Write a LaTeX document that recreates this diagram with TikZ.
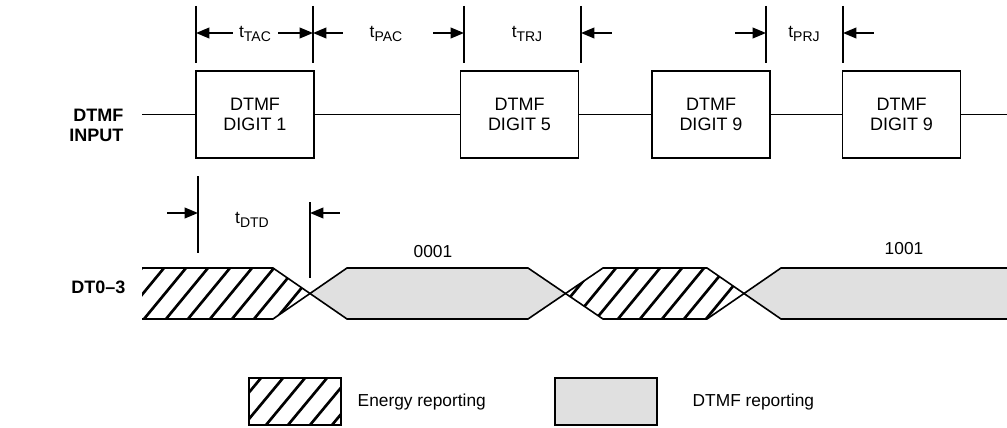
\documentclass[tikz,border=0pt]{standalone}
\usepackage{fontspec}
\setmainfont{Liberation Sans}
\usetikzlibrary{arrows.meta}

\tikzset{
  digitbox/.style={draw, line width=1.3pt, minimum width=88.5pt, minimum height=65.25pt,
    inner sep=0pt, align=center, font=\fontsize{13.5}{15.5}\selectfont},
  signame/.style={anchor=east, align=right, font=\bfseries\fontsize{13.5}{15.5}\selectfont},
  txt/.style={font=\fontsize{13}{15}\selectfont},
  limitline/.style={line width=1.3pt},
  dimarrow/.style={line width=1.3pt, {Triangle[length=10pt,width=8pt]}-},
  bus/.style={line width=1.2pt},
  hatchline/.style={line width=2pt},
  dtmffill/.style={fill=black!12}
}
\newcommand{\tsub}[1]{t\raisebox{-2.5pt}{\fontsize{10.5}{12}\selectfont #1}}

\begin{document}
\begin{tikzpicture}[x=0.75pt,y=-0.75pt]
  \useasboundingbox (0,0) rectangle (1007,428);

  % DTMF input
  \node[signame] (input) at (128,125.5) {DTMF\\INPUT};
  \node[digitbox] (dig1) at (255,114.5) {DTMF\\DIGIT 1};
  \node[digitbox] (dig5) at (519.5,114.5) {DTMF\\DIGIT 5};
  \node[digitbox] (dig9a) at (711,114.5) {DTMF\\DIGIT 9};
  \node[digitbox] (dig9b) at (901.5,114.5) {DTMF\\DIGIT 9};
  \coordinate (instart) at (142,114.5);
  \coordinate (inend) at (1007,114.5);
  \draw[bus, line width=1.3pt] (instart) -- (dig1.west) (dig1.east) -- (dig5.west)
    (dig5.east) -- (dig9a.west) (dig9a.east) -- (dig9b.west) (dig9b.east) -- (inend);

  % timing marks
  \foreach \x/\n in {196/tA, 313/tB, 464/tC, 581/tD, 766/tE, 843/tF} {
    \draw[limitline] (\x,6) -- (\x,63);
    \coordinate (\n) at (\x,33);
  }
  \node[txt] (tac) at (255,34) {\tsub{TAC}};
  \node[txt] (pac) at (386,34) {\tsub{PAC}};
  \node[txt] (trj) at (527,34) {\tsub{TRJ}};
  \node[txt] (prj) at (804,34) {\tsub{PRJ}};
  \draw[dimarrow] (tA) -- ++(37,0);
  \draw[dimarrow] (tB) -- ++(-35,0);
  \draw[dimarrow] (tB) -- ++(30,0);
  \draw[dimarrow] (tC) -- ++(-31,0);
  \draw[dimarrow] (tD) -- ++(31,0);
  \draw[dimarrow] (tE) -- ++(-31,0);
  \draw[dimarrow] (tF) -- ++(31,0);

  % DT0-3 delay
  \draw[limitline] (198,176) -- (198,253);
  \draw[limitline] (310,202) -- (310,278);
  \coordinate (dA) at (198,213);
  \coordinate (dB) at (310,213);
  \node[txt] (dtd) at (252,220) {\tsub{DTD}};
  \draw[dimarrow] (dA) -- ++(-31,0);
  \draw[dimarrow] (dB) -- ++(30,0);

  % DT0-3 bus
  \node[signame] (dtout) at (130,287) {DT0–3};
  \fill[dtmffill] (310,293.5) -- (347,268) -- (528,268) -- (565,293.5) -- (528,319) -- (347,319) -- cycle;
  \fill[dtmffill] (744,293.5) -- (781,268) -- (1007,268) -- (1007,319) -- (781,319) -- cycle;
  \begin{scope}
    \clip (142,268) -- (273,268) -- (310,293.5) -- (273,319) -- (142,319) -- cycle;
    \foreach \x in {100,122,...,320} \draw[hatchline] (\x,319) -- ++(42,-51);
  \end{scope}
  \begin{scope}
    \clip (565,293.5) -- (603,268) -- (707,268) -- (744,293.5) -- (707,319) -- (603,319) -- cycle;
    \foreach \x in {530,552,...,750} \draw[hatchline] (\x,319) -- ++(42,-51);
  \end{scope}
  \draw[bus] (142,268) -- (273,268) -- (347,319) -- (528,319) -- (603,268) -- (707,268) -- (781,319) -- (1007,319);
  \draw[bus] (142,319) -- (273,319) -- (347,268) -- (528,268) -- (603,319) -- (707,319) -- (781,268) -- (1007,268);
  \node[txt] (code1) at (433,252) {0001};
  \node[txt] (code9) at (904,249) {1001};

  % legend
  \begin{scope}
    \clip (249,378) rectangle (341,425);
    \foreach \x in {200,222,...,350} \draw[hatchline] (\x,425) -- ++(39,-47);
  \end{scope}
  \draw[bus] (249,378) rectangle (341,425);
  \node[txt, anchor=west] (energy) at (353,402) {Energy reporting};
  \draw[bus, dtmffill] (555,378) rectangle (657,425);
  \node[txt, anchor=west] (dtmfrep) at (688,402) {DTMF reporting};
\end{tikzpicture}
\end{document}
